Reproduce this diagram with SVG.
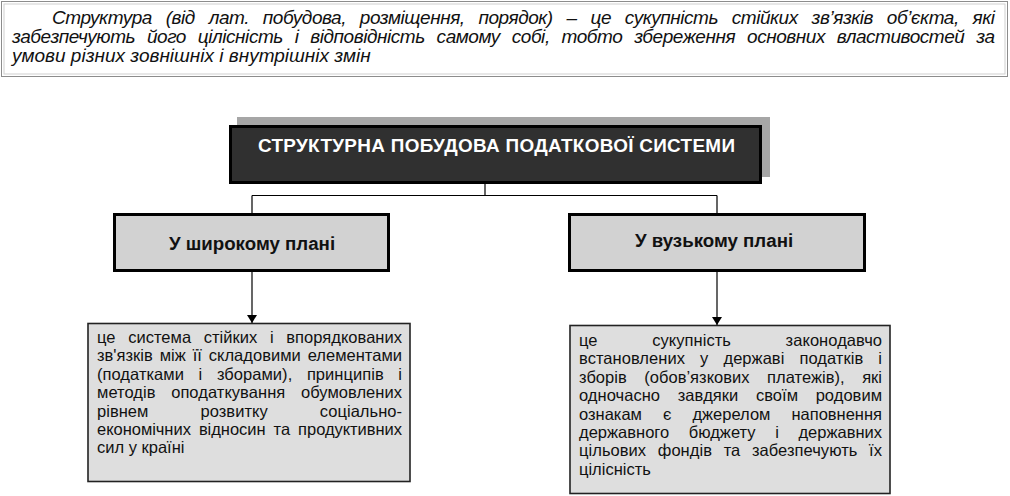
<svg xmlns="http://www.w3.org/2000/svg" width="1010" height="496" viewBox="0 0 1010 496">
<defs>
<style>
.para{font-family:"Liberation Sans",Arial,sans-serif;font-style:italic;font-size:19px;fill:#111}
.body{font-family:"Liberation Sans",Arial,sans-serif;font-size:16.5px;fill:#111}
.title{font-family:"Liberation Sans",Arial,sans-serif;font-weight:bold;font-size:18.9px;fill:#fff}
.mid{font-family:"Liberation Sans",Arial,sans-serif;font-weight:bold;font-size:18.7px;fill:#111}
.midbox{fill:#d2d2d2;stroke:#000;stroke-width:3}
.lowbox{fill:#dedede;stroke:#222;stroke-width:1.6}
.conn{fill:none;stroke:#000;stroke-width:1.2}
</style>
<marker id="arr" markerWidth="8" markerHeight="10" refX="8" refY="5" orient="auto" markerUnits="userSpaceOnUse" viewBox="0 0 8 10"><path d="M0,0 L8,5 L0,10 Z" fill="#000"/></marker>
</defs>
<rect width="1010" height="496" fill="#fff"/>
<g id="definition">
<rect x="1.5" y="1.5" width="1006" height="75" fill="#fff" stroke="#8c8c8c" stroke-width="1"/>
<rect x="4" y="4" width="1001" height="70" fill="none" stroke="#cfcfcf" stroke-width="1"/>
<text class="para" x="52" y="24" textLength="943" lengthAdjust="spacing" word-spacing="9">Структура (від лат. побудова, розміщення, порядок) – це сукупність стійких зв’язків об’єкта, які</text>
<text class="para" x="12" y="43" textLength="983" lengthAdjust="spacing" word-spacing="7">забезпечують його цілісність і відповідність самому собі, тобто збереження основних властивостей за</text>
<text class="para" x="12" y="62">умови різних зовнішніх і внутрішніх змін</text>
</g>
<g id="connectors">
<path class="conn" d="M485,184 V195.5 M252,195.5 H717 M252,195.5 V213 M717,195.5 V213"/>
<line class="conn" x1="252" y1="271" x2="252" y2="323" marker-end="url(#arr)"/>
<line class="conn" x1="717" y1="271" x2="717" y2="325" marker-end="url(#arr)"/>
</g>
<g id="title">
<rect x="237" y="117" width="533" height="60" fill="#a6a6a6"/>
<rect x="230.5" y="126.5" width="530" height="56" fill="#303030" stroke="#000" stroke-width="3"/>
<text class="title" x="258" y="152" textLength="477" lengthAdjust="spacing">СТРУКТУРНА ПОБУДОВА ПОДАТКОВОЇ СИСТЕМИ</text>
</g>
<g id="broad">
<rect class="midbox" x="114.5" y="214.5" width="274" height="56"/>
<text class="mid" x="252" y="250" text-anchor="middle">У широкому плані</text>
</g>
<g id="narrow">
<rect class="midbox" x="569.5" y="214.5" width="295" height="56"/>
<text class="mid" x="714" y="247" text-anchor="middle">У вузькому плані</text>
</g>
<g id="broad-def">
<rect class="lowbox" x="88" y="323.5" width="322" height="158"/>
<text class="body" x="97" y="343" textLength="305" lengthAdjust="spacing" word-spacing="8">це система стійких і впорядкованих</text>
<text class="body" x="97" y="361.4" textLength="305" lengthAdjust="spacing" word-spacing="2.3">зв'язків між її складовими елементами</text>
<text class="body" x="97" y="379.8" textLength="305" lengthAdjust="spacing" word-spacing="10">(податками і зборами), принципів і</text>
<text class="body" x="97" y="398.2" textLength="305" lengthAdjust="spacing" word-spacing="11">методів оподаткування обумовлених</text>
<text class="body" x="97" y="416.6" textLength="305" lengthAdjust="spacing" word-spacing="47.5">рівнем розвитку соціально-</text>
<text class="body" x="97" y="435" textLength="305" lengthAdjust="spacing" word-spacing="3.5">економічних відносин та продуктивних</text>
<text class="body" x="97" y="453.4">сил у країні</text>
</g>
<g id="narrow-def">
<rect class="lowbox" x="570" y="325.5" width="320" height="168"/>
<text class="body" x="579" y="346" textLength="303" lengthAdjust="spacing" word-spacing="50">це сукупність законодавчо</text>
<text class="body" x="579" y="364.4" textLength="303" lengthAdjust="spacing" word-spacing="10.5">встановлених у державі податків і</text>
<text class="body" x="579" y="382.8" textLength="303" lengthAdjust="spacing" word-spacing="13">зборів (обов’язкових платежів), які</text>
<text class="body" x="579" y="401.2" textLength="303" lengthAdjust="spacing" word-spacing="13">одночасно завдяки своїм родовим</text>
<text class="body" x="579" y="419.6" textLength="303" lengthAdjust="spacing" word-spacing="16.5">ознакам є джерелом наповнення</text>
<text class="body" x="579" y="438" textLength="303" lengthAdjust="spacing" word-spacing="15">державного бюджету і державних</text>
<text class="body" x="579" y="456.4" textLength="303" lengthAdjust="spacing" word-spacing="7">цільових фондів та забезпечують їх</text>
<text class="body" x="579" y="474.8">цілісність</text>
</g>
</svg>
